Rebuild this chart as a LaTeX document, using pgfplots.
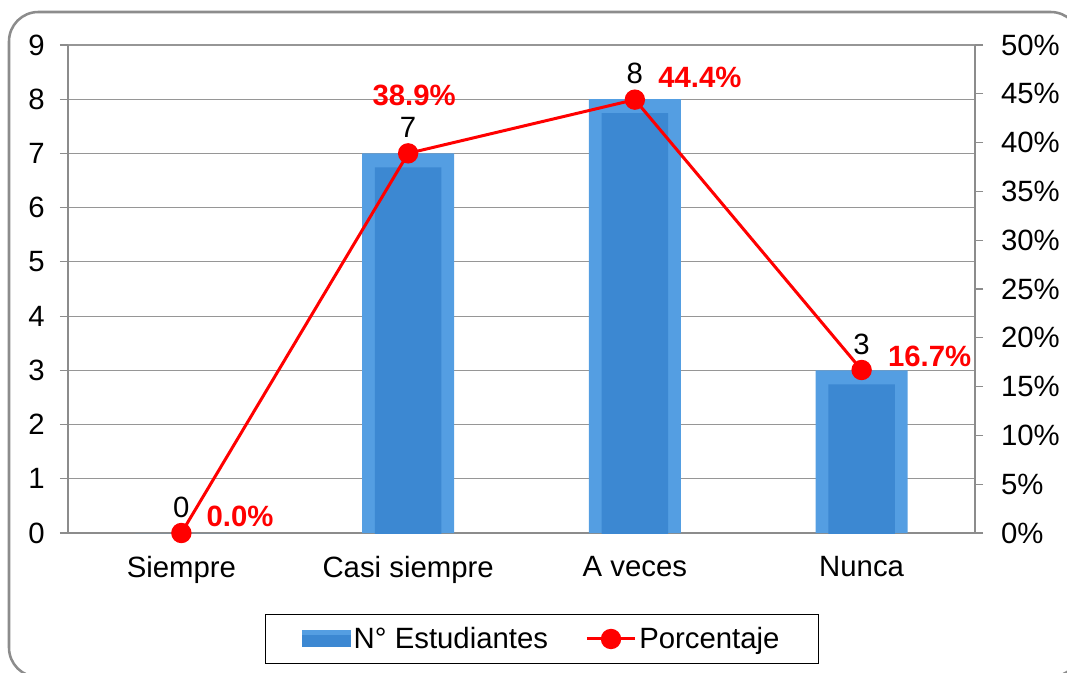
\documentclass[border=0pt]{standalone}
\usepackage{pgfplots}
\pgfplotsset{compat=1.18}
\usepackage{fontspec}
\setmainfont{Liberation Sans}
\definecolor{axisgray}{RGB}{140,140,140}
\definecolor{gridgray}{RGB}{150,150,150}
\definecolor{barouter}{RGB}{84,158,226}
\definecolor{barinner}{RGB}{60,136,210}
\definecolor{pctred}{RGB}{255,0,0}

\pgfplotstableread{
x n
0 0
1 7
2 8
3 3
}\estudiantes

\pgfplotstableread{
x p dx dy
0 0.0 44 12.75
1 38.9 4.5 43.5
2 44.4 48.75 16.5
3 16.7 51 10.5
}\porcentaje

\newcommand{\lblfont}{\fontsize{22}{26}\selectfont}

\begin{document}
\begin{tikzpicture}
\useasboundingbox (0,0) rectangle (800.25pt,504pt);

\pgfplotsset{
  common/.style={
    at={(51pt,104.25pt)}, anchor=south west,
    scale only axis, width=680.25pt, height=366pt,
    xmin=-0.5, xmax=3.5,
    axis line style={draw=axisgray, line width=0.9pt, -},
    tick style={draw=axisgray, line width=0.9pt},
    tick align=outside, major tick length=6pt,
    tick label style={font=\lblfont},
    /pgf/number format/assume math mode=true,
  },
}

\begin{axis}[
  common,
  ymin=0, ymax=9,
  axis x line*=bottom, axis y line*=left,
  xtick={0,1,2,3},
  xticklabels={Siempre, Casi siempre, A veces, Nunca},
  major x tick style={draw=none},
  extra x ticks={-0.5,0.5,1.5,2.5,3.5},
  extra x tick labels={},
  extra x tick style={grid=none, major tick length=6pt, tick style={draw=axisgray, line width=0.9pt}},
  ytick={0,1,...,9},
  ymajorgrids, grid style={draw=gridgray, line width=0.8pt},
  yticklabel style={xshift=-8pt},
  xticklabel style={yshift=-8pt},
]
\addplot[ybar, bar width=69pt, bar shift=0pt, fill=barouter, draw=none,
  nodes near coords,
  nodes near coords style={font=\lblfont, text=black, anchor=center, yshift=19.5pt},
] table[x=x, y=n] {\estudiantes};
\addplot[ybar, bar width=50pt, bar shift=0pt, fill=barinner, draw=none, yshift=-10.5pt]
  table[x=x, y=n] {\estudiantes};
\end{axis}

\begin{axis}[
  common,
  ymin=0, ymax=50,
  hide x axis, axis y line*=right,
  ytick={0,5,...,50},
  yticklabel={\pgfmathprintnumber{\tick}\%},
  yticklabel style={xshift=10pt},
  clip=false,
  legend style={at={(0.5226,-0.2172)}, anchor=center, draw=black, line width=0.8pt,
    font=\lblfont, legend columns=2, /tikz/every even column/.append style={column sep=26pt},
    inner xsep=27pt, inner ysep=8pt},
]
\addlegendimage{legend image code/.code={
  \fill[barouter] (0cm,-0.21cm) rectangle (1.27cm,0.21cm);
  \fill[barinner] (0cm,-0.21cm) rectangle (1.27cm,0.1cm);}}
\addlegendentry{N° Estudiantes}
\addplot[pctred, line width=2.25pt, mark=*, mark size=6.5pt, mark options={fill=pctred, draw=pctred},
  legend image code/.code={
    \draw[pctred, line width=2.25pt] (0cm,0cm) -- (1.27cm,0cm);
    \fill[pctred] (0.635cm,0cm) circle (6.5pt);},
  visualization depends on={\thisrow{dx}\as\dx},
  visualization depends on={\thisrow{dy}\as\dy},
  point meta=\thisrow{p},
  nodes near coords={\pgfmathprintnumber[fixed,fixed zerofill,precision=1]{\pgfplotspointmeta}\%},
  nodes near coords style={font=\lblfont\bfseries, text=pctred, anchor=center, xshift=\dx pt, yshift=\dy pt},
] table[x=x, y=p] {\porcentaje};
\addlegendentry{Porcentaje}
\end{axis}

\begin{scope}[x=0.75pt, y=0.75pt]
\clip (0,0) rectangle (1067,672);
\draw[axisgray, line width=1.9pt, rounded corners=22pt] (9,-5) rectangle (1080,660);
\end{scope}
\end{tikzpicture}
\end{document}
